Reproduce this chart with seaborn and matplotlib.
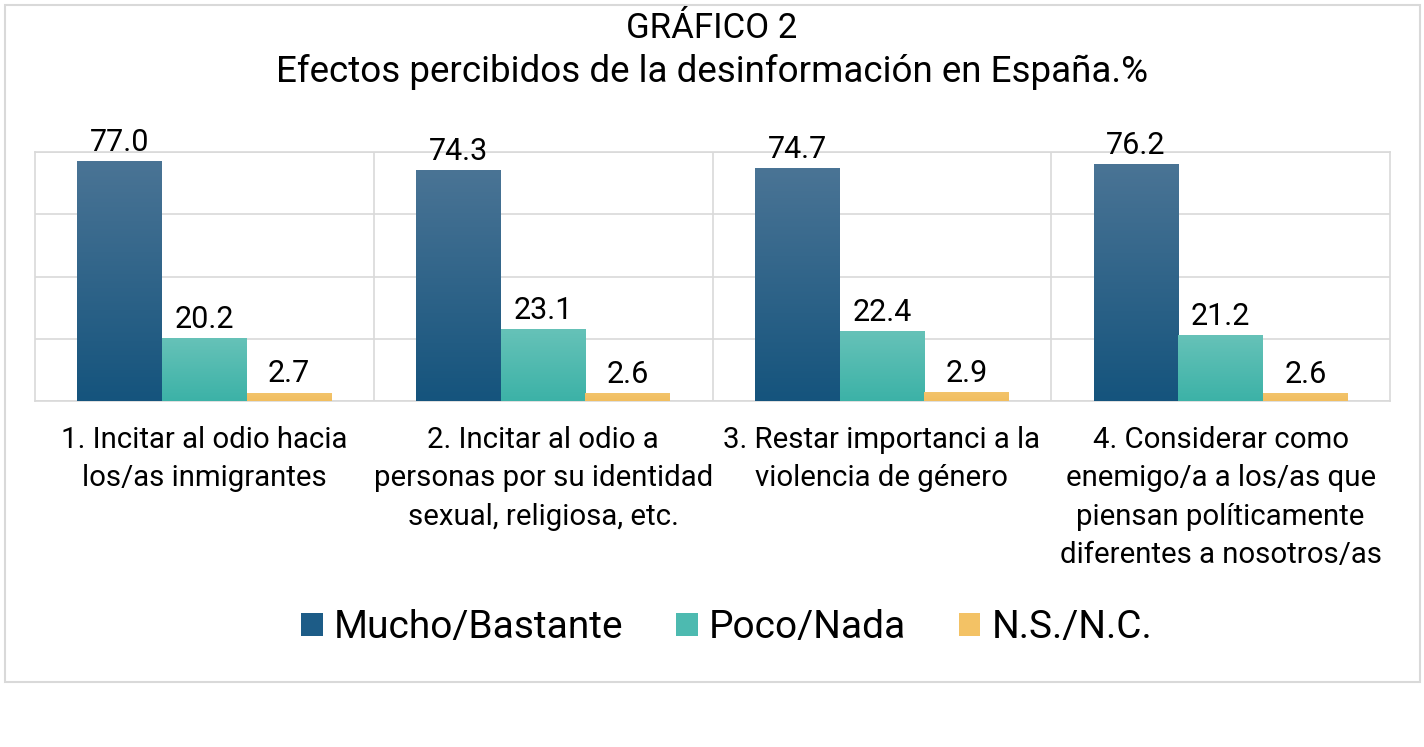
import numpy as np
import pandas as pd
import matplotlib.pyplot as plt
import seaborn as sns
from matplotlib.patches import Rectangle, Patch

# Datos
categorias = [
    "1. Incitar al odio hacia\nlos/as inmigrantes",
    "2. Incitar al odio a\npersonas por su identidad\nsexual, religiosa, etc.",
    "3. Restar importanci a la\nviolencia de género",
    "4. Considerar como\nenemigo/a a los/as que\npiensan políticamente\ndiferentes a nosotros/as",
]
series = ["Mucho/Bastante", "Poco/Nada", "N.S./N.C."]
mucho = [77.0, 74.3, 74.7, 76.2]
poco = [20.2, 23.1, 22.4, 21.2]
nsnc = [2.7, 2.6, 2.9, 2.6]

df = pd.DataFrame({
    "categoria": categorias * 3,
    "serie": [s for s in series for _ in categorias],
    "valor": mucho + poco + nsnc,
})

colores = {"Mucho/Bastante": "#1d5c87", "Poco/Nada": "#4dbab0", "N.S./N.C.": "#f3c265"}
degradados = {
    "Mucho/Bastante": ("#4a7495", "#15547d"),
    "Poco/Nada": ("#66c2b8", "#3cb2a7"),
    "N.S./N.C.": ("#f3c46c", "#f1be60"),
}

sns.set_style("white")
plt.rcParams["font.family"] = ["Roboto", "DejaVu Sans"]
plt.rcParams["text.color"] = "black"
plt.rcParams["xtick.color"] = "black"

fig = plt.figure(figsize=(14.24, 7.47), dpi=100)
ax = fig.add_axes([35 / 1424, 1 - 401 / 747, 1355 / 1424, 249 / 747])

sns.barplot(data=df, x="categoria", y="valor", hue="serie", hue_order=series,
            palette=colores, width=0.75, gap=0, ax=ax, legend=False,
            saturation=1, edgecolor="none", zorder=3)

# Degradado en las barras
for cont, s in zip(ax.containers, series):
    c_top, c_bot = [np.array(plt.matplotlib.colors.to_rgb(c)) for c in degradados[s]]
    grad = np.linspace(0, 1, 100)[:, None]
    img = c_top * (1 - grad[..., None]) + c_bot * grad[..., None]
    for p in cont.patches:
        x0, y0 = p.get_x(), p.get_y()
        w, h = p.get_width(), p.get_height()
        im = ax.imshow(img, extent=[x0, x0 + w, y0, y0 + h], aspect="auto",
                       origin="upper", zorder=4)
        im.set_clip_path(p)
    ax.bar_label(cont, fmt="%.1f", padding=3, fontsize=22, color="black")

ax.set_xlim(-0.5, 3.5)
ax.set_ylim(0, 80)
ax.set_yticks([0, 20, 40, 60, 80])
ax.set_yticklabels([])
ax.grid(axis="y", color="#d9d9d9", lw=1.2, zorder=0)
for xv in [0.5, 1.5, 2.5]:
    ax.axvline(xv, color="#d9d9d9", lw=1.2, zorder=0)
for sp in ax.spines.values():
    sp.set_color("#d9d9d9")
    sp.set_linewidth(1.2)
ax.set_xlabel("")
ax.set_ylabel("")
ax.tick_params(axis="both", length=0)
ax.tick_params(axis="x", pad=18)
for t in ax.get_xticklabels():
    t.set_fontsize(21.2)
    t.set_verticalalignment("top")
    t.set_linespacing(1.47)

# Títulos
fig.text(0.5, 1 - 29 / 747, "GRÁFICO 2", ha="center", va="center", fontsize=25)
fig.text(0.5, 1 - 72 / 747, "Efectos percibidos de la desinformación en España.%",
         ha="center", va="center", fontsize=26.5)

# Leyenda
handles = [Patch(facecolor=colores[s], edgecolor="none") for s in series]
fig.legend(handles, series, loc="center", bbox_to_anchor=(0.5105, 1 - 628 / 747),
           ncol=3, frameon=False, handlelength=0.55, handleheight=0.55,
           handletextpad=0.3, columnspacing=1.35,
           prop={"size": 28})

# Marco
fig.patches.append(Rectangle((5 / 1424, 1 - 682 / 747), 1415 / 1424, 677 / 747,
                             transform=fig.transFigure, fill=False,
                             edgecolor="#d9d9d9", lw=1.5))

fig.savefig("out.png", dpi=100, facecolor="white")
